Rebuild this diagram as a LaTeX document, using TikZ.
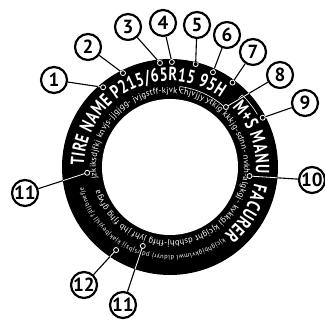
\documentclass[tikz,border=0pt]{standalone}
\usepackage{fontspec}
\usetikzlibrary{decorations.text}
\newfontfamily\tirefont[FakeStretch=0.75]{PT Sans}
\newfontfamily\printfont{PT Sans}
\newcommand\bigprint{\tirefont\bfseries\fontsize{19}{19}\selectfont}
\newcommand\smallprint{\printfont\fontsize{8.5}{8.5}\selectfont}
\newcommand\tinyprint{\printfont\fontsize{6.5}{6.5}\selectfont}

\begin{document}
\begin{tikzpicture}[x=1pt, y=1pt,
  callout/.style={circle, draw, line width=2.2pt, fill=white, minimum size=26pt, inner sep=0pt,
    font=\printfont\bfseries\fontsize{19}{19}\selectfont},
  marker/.style={circle, inner sep=0pt, minimum size=5pt},
  leader/.style={line width=1.1pt},
  bracket/.style={white, line width=0.6pt},
  sidewall/.style={decorate, decoration={text along path, text align=fit to path, text color=white, text={#1}}}]
  \useasboundingbox (-170,-156) rectangle (155,167);
  % tire
  \fill (0,0) circle (108);
  \fill[white] (0,0) circle (68);
  % sidewall print
  \path[sidewall={|\bigprint|TIRE NAME P215/65R15 95H}] (179:86) arc (179:54:86);
  \path[sidewall={|\bigprint|M+S MANU}] (44:86) arc (44:-4:86);
  \path[sidewall={|\bigprint|FACURER}] (-11:86) arc (-11:-51:86);
  \path[sidewall={|\smallprint|jzkiksdjfkj knvjs-jjgjgg- jvjgstff-kjvk chjvjjy ytkig kkkjg-sdnn- nvkh-algkgj- kvkkgj kjcjght dshbhj-fhfg jyhf jhb fjhg gfvga}] (189:74) arc (189:-162:74);
  \path[sidewall={|\tinyprint|kjcjghbjgkvlmwl dlduyrj pd rsjbsjj kjakjbeyjsjj fjlijbnefje}] (-53:89) arc (-53:-167:89);
  \draw[bracket] (83:77) -- (83:81) arc (83:49:81);
  \draw[bracket] (45:97) -- (45:102) arc (45:31:102);
  % markers
  \node[marker] (m1) at (130:104) {};
  \node[marker] (m2) at (116.6:105) {};
  \node[marker] (m3) at (95.5:104.5) {};
  \node[marker] (m4) at (89:105) {};
  \node[marker] (m5) at (76:106) {};
  \node[marker] (m6) at (65.6:104) {};
  \node[marker] (m7) at (53.5:105) {};
  \node[marker] (m8) at (47:82) {};
  \node[marker] (m9) at (28:105) {};
  \node[marker] (m10) at (-6.5:80) {};
  \node[marker] (m11l) at (184:83) {};
  \node[marker] (m12) at (-123:99) {};
  \node[marker] (m11b) at (-109:83.5) {};
  % callouts
  \node[callout] (c1) at (-116,87) {1};
  \node[callout] (c2) at (-82,120) {2};
  \node[callout] (c3) at (-42,140) {3};
  \node[callout] (c4) at (-7,144) {4};
  \node[callout] (c5) at (27,142) {5};
  \node[callout] (c6) at (57,132) {6};
  \node[callout] (c7) at (83,115) {7};
  \node[callout] (c8) at (110,92) {8};
  \node[callout] (c9) at (135,64) {9};
  \node[callout] (c10) at (142,-13) {10};
  \node[callout] (c11l) at (-145,-26) {11};
  \node[callout] (c12) at (-86,-118) {12};
  \node[callout] (c11b) at (-47,-138) {11};
  % leaders, white where they cross the tire
  \foreach \m/\c in {m1/c1, m2/c2, m3/c3, m4/c4, m5/c5, m6/c6, m7/c7, m8/c8, m9/c9, m10/c10, m11l/c11l, m12/c12, m11b/c11b}
    \draw[leader] (\m) circle (2.5) (\m) -- (\c);
  \begin{scope}
    \clip (0,0) circle (108);
    \foreach \m/\c in {m1/c1, m2/c2, m3/c3, m4/c4, m5/c5, m6/c6, m7/c7, m8/c8, m9/c9, m10/c10, m11l/c11l, m12/c12, m11b/c11b}
      \draw[leader, white, line width=0.8pt] (\m) circle (2.5) (\m) -- (\c);
  \end{scope}
\end{tikzpicture}
\end{document}
